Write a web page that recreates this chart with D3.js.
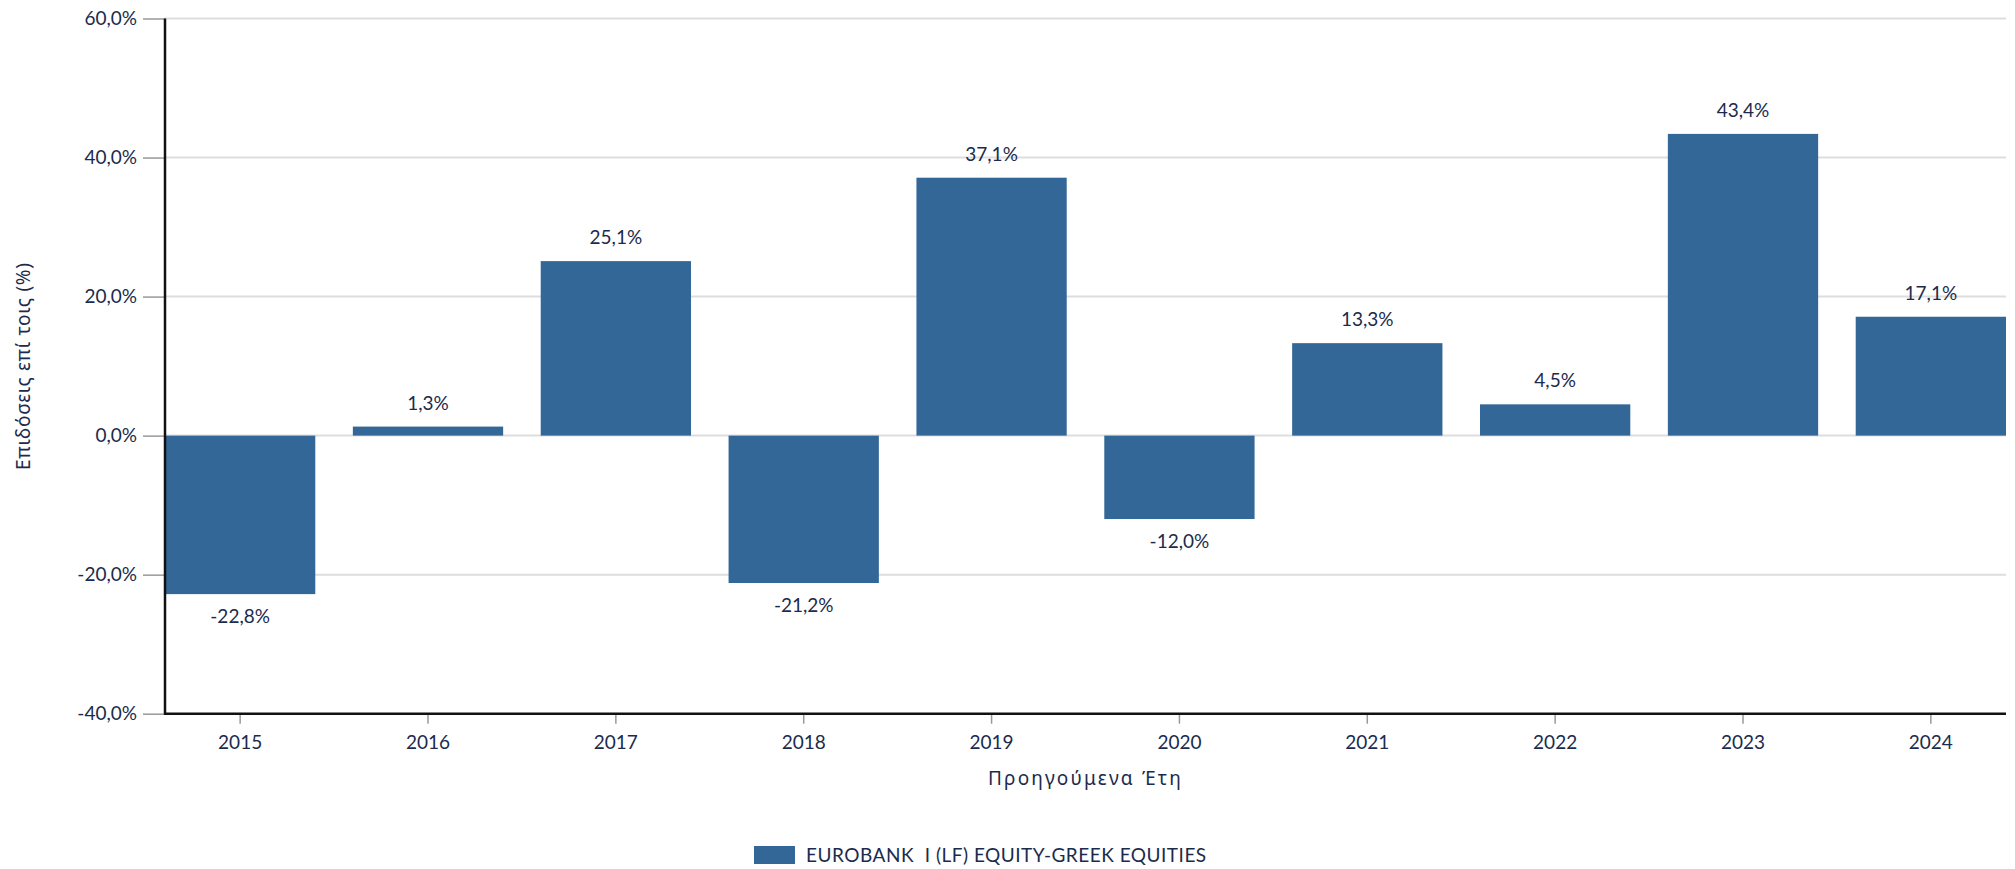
<!DOCTYPE html>
<html>
<head>
<meta charset="utf-8">
<script src="https://cdn.jsdelivr.net/npm/d3@7/dist/d3.min.js"></script>
<style>
  html, body { margin: 0; padding: 0; background: #fff; }
  svg { display: block; font-family: Lato, "Open Sans", sans-serif; }
</style>
</head>
<body>
<svg id="chart" width="2015" height="869"></svg>
<script>
const categories = ["2015","2016","2017","2018","2019","2020","2021","2022","2023","2024"];
const values = [-22.8, 1.3, 25.1, -21.2, 37.1, -12.0, 13.3, 4.5, 43.4, 17.1];
const yTicks = [-40, -20, 0, 20, 40, 60];
const seriesName = "EUROBANK  I (LF) EQUITY-GREEK EQUITIES";
const xTitle = "Προηγούμενα Έτη";
const yTitle = "Επιδόσεις επί τοις (%)";

const barColor = "#336797";
const textColor = "#1b2b4d";
const mLeft = 165, mRight = 2006, mTop = 18.5, mBottom = 713.7;

const svg = d3.select("#chart");
const x = d3.scaleBand().domain(categories).range([mLeft, mRight]).paddingInner(0.2).paddingOuter(0);
const y = d3.scaleLinear().domain([-40, 60]).range([mBottom, mTop]);
const fmt = v => v.toFixed(1).replace(".", ",") + "%";

// gridlines
svg.append("g").selectAll("line").data(yTicks.filter(t => t !== -40)).join("line")
  .attr("x1", mLeft).attr("x2", mRight)
  .attr("y1", d => y(d)).attr("y2", d => y(d))
  .attr("stroke", "#dddddd").attr("stroke-width", 2);

// y axis
const yAxis = svg.append("g").attr("transform", `translate(${mLeft},0)`)
  .call(d3.axisLeft(y).tickValues(yTicks).tickSize(22).tickPadding(6).tickFormat(fmt));
yAxis.select(".domain").remove();
yAxis.selectAll(".tick line").attr("stroke", "#999").attr("stroke-width", 1.5);
yAxis.selectAll(".tick text").attr("fill", textColor).style("font-size", "19px").style("font-family", "Lato");

// bars
svg.append("g").selectAll("rect").data(values).join("rect")
  .attr("x", (d, i) => x(categories[i]))
  .attr("width", x.bandwidth())
  .attr("y", d => y(Math.max(0, d)))
  .attr("height", d => Math.abs(y(d) - y(0)))
  .attr("fill", barColor);

// value labels
svg.append("g").selectAll("text").data(values).join("text")
  .attr("x", (d, i) => x(categories[i]) + x.bandwidth() / 2)
  .attr("y", d => d >= 0 ? y(d) - 17 : y(d) + 29)
  .attr("text-anchor", "middle")
  .attr("fill", textColor)
  .style("font-size", "19px")
  .text(fmt);

// x axis
const xAxis = svg.append("g").attr("transform", `translate(0,${mBottom})`)
  .call(d3.axisBottom(x).tickSize(10).tickPadding(12));
xAxis.select(".domain").remove();
xAxis.selectAll(".tick line").attr("stroke", "#999").attr("stroke-width", 1.5);
xAxis.selectAll(".tick text").attr("fill", textColor).style("font-size", "19px").style("font-family", "Lato");

// axis lines
svg.append("line").attr("x1", mLeft).attr("x2", mLeft).attr("y1", mTop).attr("y2", mBottom + 1)
  .attr("stroke", "#111").attr("stroke-width", 2.5);
svg.append("line").attr("x1", mLeft - 1).attr("x2", mRight).attr("y1", mBottom).attr("y2", mBottom)
  .attr("stroke", "#111").attr("stroke-width", 2.5);

// axis titles
svg.append("text").attr("x", (mLeft + mRight) / 2).attr("y", 785)
  .attr("text-anchor", "middle").attr("fill", textColor)
  .style("font-family", "'Noto Sans'").style("font-size", "19px").style("letter-spacing", "2.2px").text(xTitle);
svg.append("text").attr("transform", `translate(30,${(mTop + mBottom) / 2}) rotate(-90)`)
  .attr("text-anchor", "middle").attr("fill", textColor)
  .style("font-family", "'Noto Sans'").style("font-size", "19px").style("letter-spacing", "0.7px").text(yTitle);

// legend
const lg = svg.append("g");
lg.append("rect").attr("x", 754).attr("y", 846).attr("width", 41).attr("height", 18).attr("fill", barColor);
lg.append("text").attr("x", 806).attr("y", 862).attr("fill", textColor).style("font-size", "19px")
  .style("letter-spacing", "0.5px")
  .style("white-space", "pre").attr("xml:space", "preserve").text(seriesName);
</script>
</body>
</html>
